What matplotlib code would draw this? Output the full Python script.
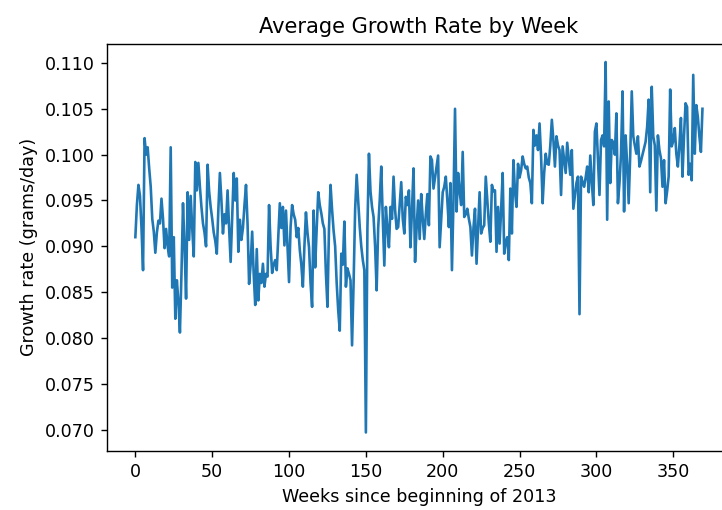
import matplotlib
matplotlib.use("Agg")
import matplotlib.pyplot as plt

# weekly average growth rate (grams/day), week 0 = first week of 2013
growth_rate = [
    0.0910, 0.0945, 0.0967, 0.0955, 0.0920, 0.0874, 0.1018, 0.1000, 0.1008, 0.0985,
    0.0965, 0.0930, 0.0916, 0.0893, 0.0915, 0.0928, 0.0925, 0.0952, 0.0930, 0.0898,
    0.0919, 0.0900, 0.0889, 0.1008, 0.0855, 0.0910, 0.0821, 0.0863, 0.0840, 0.0806,
    0.0870, 0.0947, 0.0900, 0.0843, 0.0959, 0.0907, 0.0955, 0.0920, 0.0889, 0.0992,
    0.0961, 0.0991, 0.0965, 0.0943, 0.0925, 0.0915, 0.0900, 0.0989, 0.0960, 0.0943,
    0.0930, 0.0915, 0.0906, 0.0892, 0.0940, 0.0980, 0.0950, 0.0914, 0.0935, 0.0925,
    0.0961, 0.0920, 0.0883, 0.0930, 0.0980, 0.0950, 0.0974, 0.0894, 0.0929, 0.0907,
    0.0920, 0.0945, 0.0967, 0.0925, 0.0859, 0.0880, 0.0916, 0.0870, 0.0836, 0.0897,
    0.0841, 0.0870, 0.0860, 0.0881, 0.0856, 0.0870, 0.0867, 0.0945, 0.0900, 0.0871,
    0.0880, 0.0885, 0.0874, 0.0910, 0.0947, 0.0920, 0.0943, 0.0901, 0.0939, 0.0900,
    0.0861, 0.0921, 0.0945, 0.0935, 0.0929, 0.0910, 0.0920, 0.0896, 0.0880, 0.0856,
    0.0900, 0.0937, 0.0915, 0.0899, 0.0860, 0.0834, 0.0939, 0.0877, 0.0920, 0.0959,
    0.0945, 0.0936, 0.0925, 0.0919, 0.0870, 0.0834, 0.0920, 0.0967, 0.0940, 0.0917,
    0.0900, 0.0860, 0.0830, 0.0808, 0.0892, 0.0880, 0.0927, 0.0856, 0.0876, 0.0870,
    0.0863, 0.0792, 0.0860, 0.0940, 0.0978, 0.0950, 0.0921, 0.0900, 0.0885, 0.0874,
    0.0697, 0.0920, 0.1001, 0.0960, 0.0943, 0.0932, 0.0900, 0.0852, 0.0920, 0.0950,
    0.0987, 0.0930, 0.0879, 0.0943, 0.0920, 0.0899, 0.0943, 0.0930, 0.0976, 0.0940,
    0.0919, 0.0921, 0.0945, 0.0970, 0.0930, 0.0914, 0.0954, 0.0945, 0.0961, 0.0899,
    0.0940, 0.0985, 0.0883, 0.0920, 0.0950, 0.0908, 0.0957, 0.0930, 0.0908, 0.0935,
    0.0957, 0.0923, 0.0998, 0.0994, 0.0963, 0.0975, 0.0987, 0.0999, 0.0899, 0.0930,
    0.0959, 0.0965, 0.0976, 0.0950, 0.0921, 0.0969, 0.0874, 0.0950, 0.1050, 0.0938,
    0.0980, 0.0960, 0.0945, 0.1003, 0.0932, 0.0935, 0.0941, 0.0930, 0.0921, 0.0890,
    0.0920, 0.0941, 0.0881, 0.0920, 0.0959, 0.0914, 0.0920, 0.0923, 0.0976, 0.0950,
    0.0925, 0.0905, 0.0967, 0.0960, 0.0961, 0.0894, 0.0943, 0.0903, 0.0940, 0.0980,
    0.0892, 0.0905, 0.0910, 0.0885, 0.0963, 0.0914, 0.0994, 0.0960, 0.0943, 0.0990,
    0.0975, 0.0983, 0.0998, 0.0990, 0.0985, 0.0987, 0.0975, 0.0969, 0.0947, 0.1027,
    0.1010, 0.1021, 0.1005, 0.1034, 0.0998, 0.0947, 0.0980, 0.1001, 0.0990, 0.0989,
    0.1010, 0.1038, 0.1016, 0.0987, 0.1020, 0.1010, 0.1005, 0.0956, 0.1009, 0.0995,
    0.0980, 0.1013, 0.0995, 0.0978, 0.1005, 0.0941, 0.0955, 0.0969, 0.0976, 0.0826,
    0.0976, 0.0970, 0.0965, 0.0975, 0.0987, 0.0959, 0.0999, 0.0970, 0.0945, 0.1025,
    0.1034, 0.0994, 0.0956, 0.1016, 0.1021, 0.1009, 0.1101, 0.0929, 0.1058, 0.0969,
    0.1016, 0.1013, 0.1000, 0.1045, 0.0947, 0.0969, 0.1000, 0.1069, 0.0938, 0.1021,
    0.0990, 0.0947, 0.1000, 0.1069, 0.1020, 0.1010, 0.1001, 0.1020, 0.0987, 0.0993,
    0.1000, 0.1007, 0.1014, 0.1030, 0.1060, 0.0959, 0.1074, 0.1020, 0.1010, 0.0939,
    0.1021, 0.1005, 0.0996, 0.0965, 0.0994, 0.0947, 0.0960, 0.0976, 0.1071, 0.1009,
    0.1015, 0.1029, 0.1001, 0.0987, 0.1010, 0.1040, 0.0976, 0.1020, 0.1056, 0.1052,
    0.0978, 0.0990, 0.0972, 0.1087, 0.1001, 0.1054, 0.1041, 0.1020, 0.1003, 0.1050,
]
weeks = list(range(len(growth_rate)))

DPI = 126
fig = plt.figure(figsize=(722 / DPI, 510 / DPI), dpi=DPI)
# axes run slightly past the right edge of the canvas
ax = fig.add_axes([0.1482, 0.1157, 0.864, 0.799])
ax.plot(weeks, growth_rate, color="#1f77b4")
ax.set_title("Average Growth Rate by Week")
ax.set_xlabel("Weeks since beginning of 2013")
ax.set_ylabel("Growth rate (grams/day)")
ax.set_yticks([0.070, 0.075, 0.080, 0.085, 0.090, 0.095, 0.100, 0.105, 0.110])

fig.savefig("out.png", dpi=DPI)
